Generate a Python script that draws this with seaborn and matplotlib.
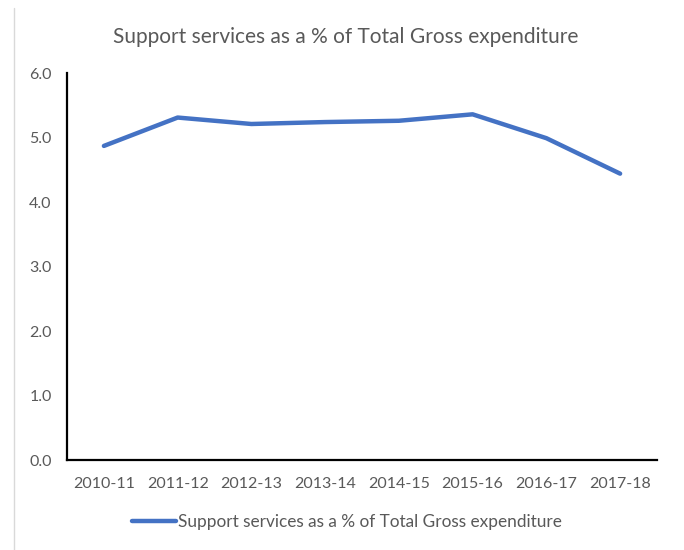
import matplotlib
matplotlib.use("Agg")
import matplotlib.pyplot as plt
from matplotlib.lines import Line2D
import seaborn as sns
import pandas as pd

years = ["2010-11", "2011-12", "2012-13", "2013-14", "2014-15", "2015-16", "2016-17", "2017-18"]
support_pct = [4.87, 5.31, 5.21, 5.24, 5.26, 5.36, 4.99, 4.44]
series_name = "Support services as a % of Total Gross expenditure"
y_ticks = [0.0, 1.0, 2.0, 3.0, 4.0, 5.0, 6.0]

sns.set_theme(style="white")
plt.rcParams["font.family"] = ["Lato", "DejaVu Sans"]
text_grey = "#595959"

df = pd.DataFrame({"year": years, "pct": support_pct, "series": series_name})
df["pos"] = range(len(years))

fig = plt.figure(figsize=(6.84, 5.5), dpi=100)
ax = fig.add_axes([0.098, 0.1636, 0.8625, 0.7036])

sns.lineplot(data=df, x="pos", y="pct", hue="series", palette=["#4472C4"],
             linewidth=3.2, ax=ax, legend=False)

ax.set_xlim(-0.5, len(years) - 0.5)
ax.set_ylim(0, 6)
ax.set_xticks(range(len(years)))
ax.set_xticklabels(years)
ax.set_yticks(y_ticks)
ax.set_yticklabels([f"{v:.1f}" for v in y_ticks])
ax.tick_params(axis="both", length=0, labelsize=11.5, labelcolor=text_grey)
ax.tick_params(axis="x", pad=12)
ax.tick_params(axis="y", pad=11)
ax.set_xlabel("")
ax.set_ylabel("")

for side in ("top", "right"):
    ax.spines[side].set_visible(False)
for side in ("left", "bottom"):
    ax.spines[side].set_color("black")
    ax.spines[side].set_linewidth(1.6)

fig.text(0.506, 0.932, "Support services as a % of Total Gross expenditure",
         ha="center", va="center", fontsize=15, color=text_grey)

handle = Line2D([], [], color="#4472C4", linewidth=3.2)
fig.legend([handle], [series_name], loc="center", bbox_to_anchor=(0.507, 0.05),
           frameon=False, fontsize=12.4, labelcolor=text_grey,
           handlelength=2.6, handletextpad=0.1)

# thin grey frame edge on the left
fig.add_artist(Line2D([0.02, 0.02], [0.0, 0.985], transform=fig.transFigure,
                      color="#d9d9d9", linewidth=1))

fig.savefig("out.png", dpi=100, facecolor="white")
